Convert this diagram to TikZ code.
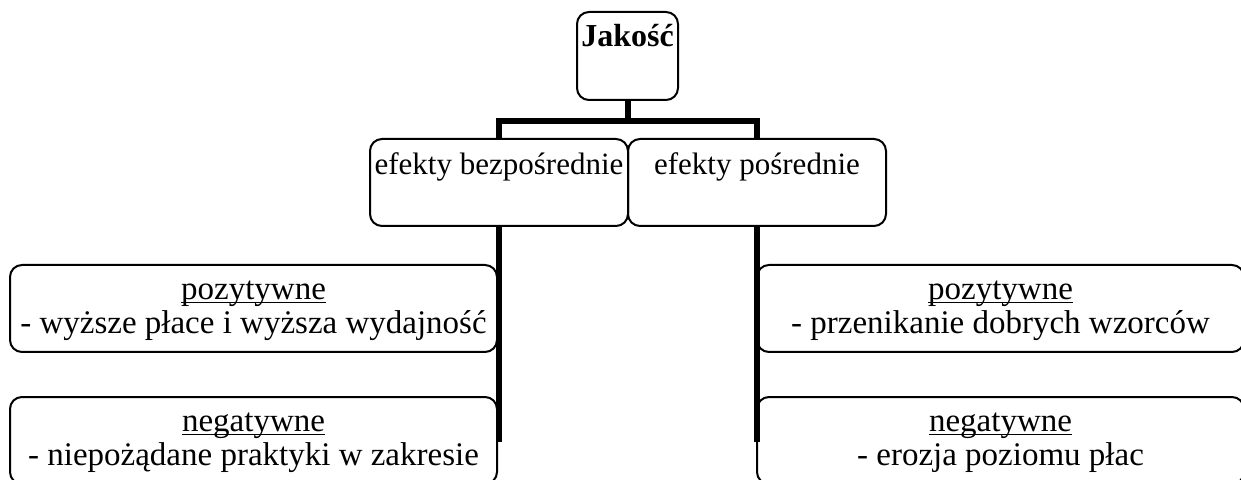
\documentclass[tikz,border=0pt]{standalone}
\usepackage{fontspec}
\setmainfont{Liberation Serif}
\usetikzlibrary{positioning}

\begin{document}
\begin{tikzpicture}[x=0.5pt,y=-0.5pt,
	every node/.style={font=\fontsize{15.5}{17}\selectfont},
	boite/.style={draw,line width=1pt,rounded corners=6pt,minimum height=43.5pt},
	titre/.style={inner sep=0pt},
	effet/.style={boite,minimum width=243.5pt,align=center,font=\fontsize{16.5}{17}\selectfont},
	trait/.style={line width=3pt}]
	\useasboundingbox (0,0) rectangle (1241,480);

	% racine
	\node[boite,minimum width=50.5pt,minimum height=44pt] (j) at (627.5,56) {};
	\node[titre,below=6.5pt of j.north,font=\fontsize{16}{17}\selectfont\bfseries] (jt) {Jakość};

	% niveau 2
	\node[boite,minimum width=129pt] (b) at (499,182.5) {};
	\node[titre,below=7pt of b.north] (bt) {efekty bezpośrednie};
	\node[boite,minimum width=129pt] (p) at (757,182.5) {};
	\node[titre,below=7pt of p.north] (pt) {efekty pośrednie};

	% niveau 3
	\foreach \x/\n/\a/\b in {253.5/l/{- wyższe płace i wyższa wydajność}/{- niepożądane praktyki w zakresie},
		1000.5/r/{- przenikanie dobrych wzorców}/{- erozja poziomu płac}} {
		\node[effet] (\n p) at (\x,308.5) {\underline{\vphantom{k}\smash{pozytywne}}\\ \a};
		\node[effet] (\n n) at (\x,440.5) {\underline{\vphantom{k}\smash{negatywne}}\\ \b};
	}

	% traits
	\draw[trait] (j.south) -- ++(0,20) -| (b.north);
	\draw[trait] (j.south) -- ++(0,20) -| (p.north);
	\coordinate (bf) at (499,442);
	\coordinate (pf) at (757,442);
	\draw[trait] (b.south) -- (bf);
	\draw[trait] (p.south) -- (pf);
\end{tikzpicture}
\end{document}
